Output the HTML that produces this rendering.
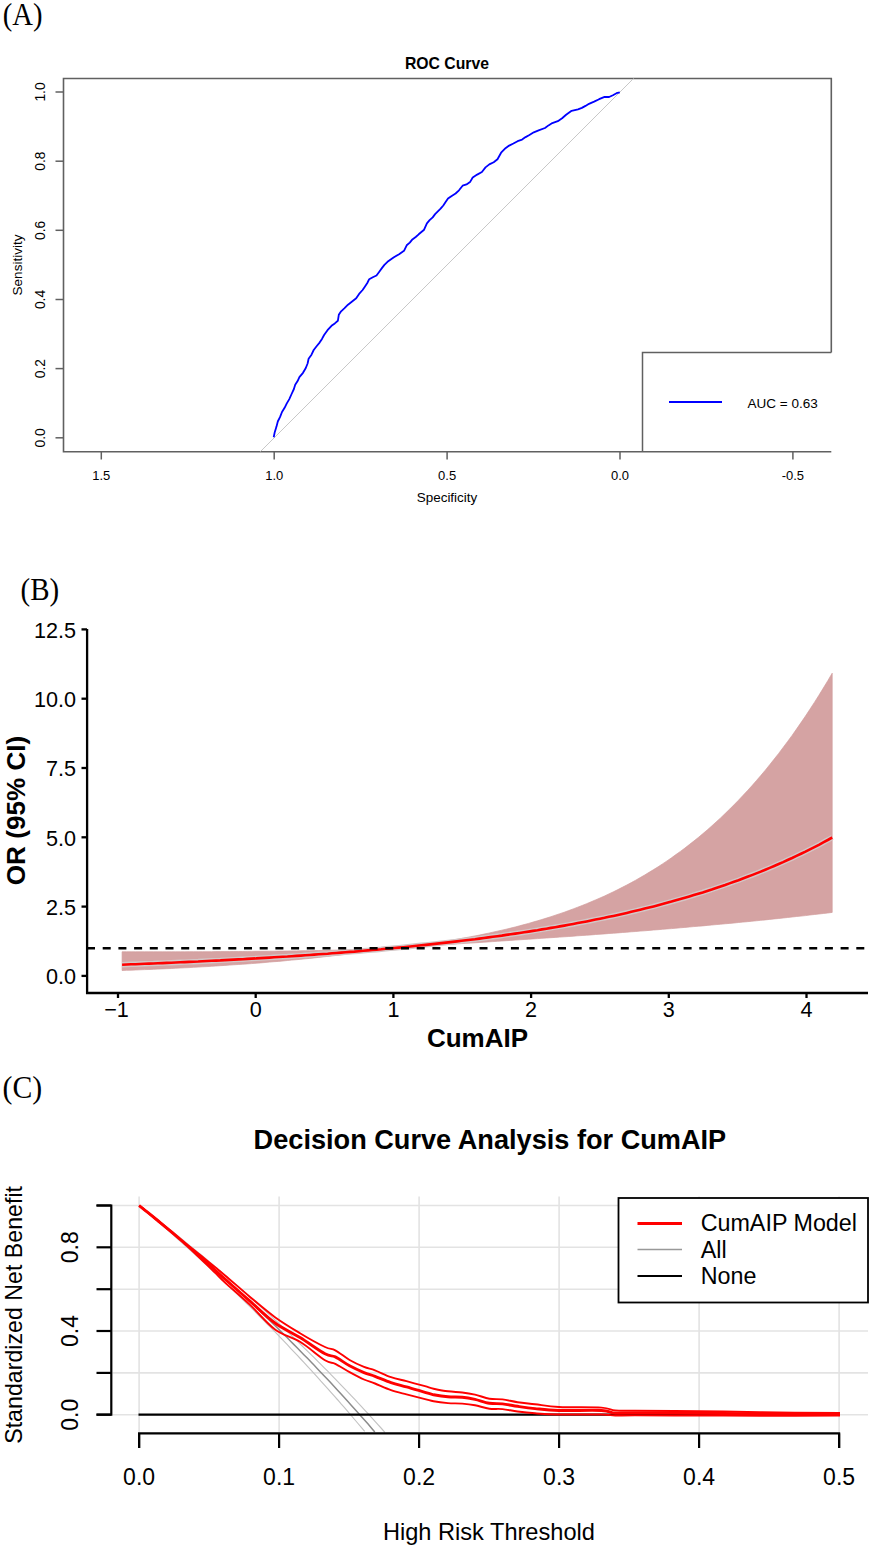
<!DOCTYPE html>
<html><head><meta charset="utf-8"><style>
html,body{margin:0;padding:0;background:#fff;}
svg{display:block;}
</style></head><body>
<svg width="873" height="1550" viewBox="0 0 873 1550">
<rect width="873" height="1550" fill="#fff"/>
<text transform="translate(2.8,24.6) scale(0.925,1)" font-family='"Liberation Serif", serif' font-size="31">(A)</text>
<polyline points="831.3,352.5 831.3,78.5 63.5,78.5 63.5,451.8 831.3,451.8" fill="none" stroke="#606060" stroke-width="1.6"/>
<text x="447" y="69.4" text-anchor="middle" font-family='"Liberation Sans", sans-serif' font-weight="bold" font-size="15.75">ROC Curve</text>
<line x1="55.5" y1="437.8" x2="63.5" y2="437.8" stroke="#606060" stroke-width="1.5"/>
<text transform="translate(45,437.8) rotate(-90)" text-anchor="middle" font-family='"Liberation Sans", sans-serif' font-size="13.8">0.0</text>
<line x1="55.5" y1="368.6" x2="63.5" y2="368.6" stroke="#606060" stroke-width="1.5"/>
<text transform="translate(45,368.6) rotate(-90)" text-anchor="middle" font-family='"Liberation Sans", sans-serif' font-size="13.8">0.2</text>
<line x1="55.5" y1="299.5" x2="63.5" y2="299.5" stroke="#606060" stroke-width="1.5"/>
<text transform="translate(45,299.5) rotate(-90)" text-anchor="middle" font-family='"Liberation Sans", sans-serif' font-size="13.8">0.4</text>
<line x1="55.5" y1="230.3" x2="63.5" y2="230.3" stroke="#606060" stroke-width="1.5"/>
<text transform="translate(45,230.3) rotate(-90)" text-anchor="middle" font-family='"Liberation Sans", sans-serif' font-size="13.8">0.6</text>
<line x1="55.5" y1="161.2" x2="63.5" y2="161.2" stroke="#606060" stroke-width="1.5"/>
<text transform="translate(45,161.2) rotate(-90)" text-anchor="middle" font-family='"Liberation Sans", sans-serif' font-size="13.8">0.8</text>
<line x1="55.5" y1="92" x2="63.5" y2="92" stroke="#606060" stroke-width="1.5"/>
<text transform="translate(45,92) rotate(-90)" text-anchor="middle" font-family='"Liberation Sans", sans-serif' font-size="13.8">1.0</text>
<line x1="101.3" y1="451.5" x2="101.3" y2="459.5" stroke="#606060" stroke-width="1.5"/>
<text x="101.3" y="479.6" text-anchor="middle" font-family='"Liberation Sans", sans-serif' font-size="13">1.5</text>
<line x1="274.2" y1="451.5" x2="274.2" y2="459.5" stroke="#606060" stroke-width="1.5"/>
<text x="274.2" y="479.6" text-anchor="middle" font-family='"Liberation Sans", sans-serif' font-size="13">1.0</text>
<line x1="447.1" y1="451.5" x2="447.1" y2="459.5" stroke="#606060" stroke-width="1.5"/>
<text x="447.1" y="479.6" text-anchor="middle" font-family='"Liberation Sans", sans-serif' font-size="13">0.5</text>
<line x1="620" y1="451.5" x2="620" y2="459.5" stroke="#606060" stroke-width="1.5"/>
<text x="620" y="479.6" text-anchor="middle" font-family='"Liberation Sans", sans-serif' font-size="13">0.0</text>
<line x1="792.9" y1="451.5" x2="792.9" y2="459.5" stroke="#606060" stroke-width="1.5"/>
<text x="792.9" y="479.6" text-anchor="middle" font-family='"Liberation Sans", sans-serif' font-size="13">-0.5</text>
<text x="447" y="502" text-anchor="middle" font-family='"Liberation Sans", sans-serif' font-size="13.45">Specificity</text>
<text transform="translate(22,265) rotate(-90)" text-anchor="middle" font-family='"Liberation Sans", sans-serif' font-size="13.5">Sensitivity</text>
<line x1="260.5" y1="451.5" x2="633.5" y2="78.5" stroke="#c8c8c8" stroke-width="1"/>
<polyline points="273.7,437.3 274.8,431.9 276.5,426.6 277.8,421.5 280.1,416.9 282,412 284.6,407.8 286.8,403.4 289.3,399.1 291.6,394 293.9,389 295.2,384.8 297.6,381.1 299.4,377.1 303,372.8 305.8,368 307.6,363.5 308.6,358.8 311.5,354.7 313.7,350 316.8,346 319.6,342.6 322,338.9 324.1,335 327.5,330.2 331.5,325.8 334.8,323.4 337.9,320.7 338.8,314.8 341.1,311.3 344.3,308.4 348,304.7 352.1,301.5 356.2,298.3 359.1,293.9 362.6,290 365,286.5 367.3,283 369.2,279.2 372.8,277.2 376.5,275.5 379.1,272 381.7,268.4 384.4,264.9 387.5,261.8 393.9,257.2 399.1,254.2 404,250.8 406.7,245.3 409.8,242.6 412.4,239.4 415.7,237 418.7,234.3 424.1,229.7 426.9,223.3 429.6,220.2 432.7,217.4 435.1,214.1 440.6,208.7 443.3,205.5 445.6,202 448,198.6 451.7,195.9 455.6,193.5 459,190.3 462.6,185.7 466.5,184.4 470,182.1 472.7,177.5 477.2,174.6 481.9,172 485.5,167.4 489.3,164.4 493.7,162.2 497.5,159.2 501.1,152.7 504.8,148.8 509.2,145.6 513.4,143.5 517.6,141.2 522.1,139.6 525.6,137.1 529.4,135 533.8,132.3 538.6,130.4 545,128 548.5,125.4 552.3,123.1 557.8,121.2 562.1,118.3 566.1,114.8 571.6,110.8 578,109.3 581.9,107.9 585.5,105.9 589,103.8 594.1,101.6 599.1,99.2 604.6,96.9 609.1,97 612.9,95.2 616.5,93.2 619.8,92.3" fill="none" stroke="#0000ff" stroke-width="1.8" stroke-linejoin="round"/>
<polyline points="642.5,451.8 642.5,352.5 831.3,352.5" fill="none" stroke="#606060" stroke-width="1.5"/>
<line x1="669" y1="402" x2="722" y2="402" stroke="#0000ff" stroke-width="2"/>
<text x="747.6" y="407.8" font-family='"Liberation Sans", sans-serif' font-size="13.5">AUC = 0.63</text>
<text transform="translate(20.6,599.8) scale(0.935,1)" font-family='"Liberation Serif", serif' font-size="31">(B)</text>
<polygon points="122.1,951.8 126.6,951.8 131.1,951.8 135.5,951.8 140,951.8 144.5,951.8 148.9,951.8 153.4,951.8 157.9,951.8 162.3,951.8 166.8,951.8 171.3,951.8 175.7,951.8 180.2,951.8 184.7,951.8 189.1,951.7 193.6,951.7 198.1,951.7 202.5,951.7 207,951.7 211.5,951.7 215.9,951.6 220.4,951.6 224.9,951.6 229.3,951.6 233.8,951.5 238.3,951.5 242.7,951.5 247.2,951.4 251.6,951.4 256.1,951.3 260.6,951.3 265,951.3 269.5,951.2 274,951.2 278.4,951.1 282.9,951.1 287.4,951 291.8,950.9 296.3,950.9 300.8,950.8 305.2,950.7 309.7,950.7 314.2,950.6 318.6,950.5 323.1,950.4 327.6,950.3 332,950.2 336.5,950.1 341,950 345.4,949.9 349.9,949.8 354.4,949.7 358.8,949.5 363.3,949.4 367.8,949.3 372.2,949.1 376.7,948.9 381.2,948.8 385.6,948.6 390.1,948.3 394.6,948 399,947.5 403.5,947 408,946.4 412.4,945.9 416.9,945.3 421.4,944.7 425.8,944.1 430.3,943.4 434.8,942.8 439.2,942.1 443.7,941.4 448.2,940.7 452.6,940 457.1,939.2 461.6,938.4 466,937.6 470.5,936.8 475,935.9 479.4,935.1 483.9,934.1 488.4,933.2 492.8,932.2 497.3,931.2 501.8,930.2 506.2,929.2 510.7,928.1 515.2,927 519.6,925.8 524.1,924.6 528.6,923.4 533,922.1 537.5,920.8 541.9,919.5 546.4,918.1 550.9,916.7 555.3,915.2 559.8,913.7 564.3,912.2 568.7,910.6 573.2,908.9 577.7,907.2 582.1,905.5 586.6,903.7 591.1,901.8 595.5,899.9 600,898 604.5,896 608.9,893.9 613.4,891.8 617.9,889.6 622.3,887.3 626.8,885 631.3,882.6 635.7,880.2 640.2,877.6 644.7,875 649.1,872.3 653.6,869.6 658.1,866.8 662.5,863.9 667,860.9 671.5,857.8 675.9,854.6 680.4,851.4 684.9,848.1 689.3,844.6 693.8,841.1 698.3,837.5 702.7,833.8 707.2,830 711.7,826 716.1,822 720.6,817.9 725.1,813.6 729.5,809.3 734,804.8 738.5,800.2 742.9,795.5 747.4,790.7 751.9,785.8 756.3,780.7 760.8,775.5 765.3,770.2 769.7,764.7 774.2,759.1 778.7,753.4 783.1,747.5 787.6,741.5 792.1,735.4 796.5,729.1 801,722.6 805.5,716 809.9,709.3 814.4,702.4 818.9,695.3 823.3,688.1 827.8,680.7 832.2,673.2 832.2,912.4 827.8,913 823.3,913.5 818.9,914 814.4,914.5 809.9,915 805.5,915.6 801,916.1 796.5,916.5 792.1,917 787.6,917.5 783.1,918 778.7,918.5 774.2,918.9 769.7,919.4 765.3,919.9 760.8,920.3 756.3,920.8 751.9,921.2 747.4,921.7 742.9,922.1 738.5,922.5 734,923 729.5,923.4 725.1,923.8 720.6,924.2 716.1,924.6 711.7,925 707.2,925.4 702.7,925.9 698.3,926.2 693.8,926.6 689.3,927 684.9,927.4 680.4,927.8 675.9,928.2 671.5,928.6 667,928.9 662.5,929.3 658.1,929.7 653.6,930 649.1,930.4 644.7,930.8 640.2,931.1 635.7,931.5 631.3,931.8 626.8,932.2 622.3,932.5 617.9,932.9 613.4,933.2 608.9,933.5 604.5,933.9 600,934.2 595.5,934.5 591.1,934.9 586.6,935.2 582.1,935.5 577.7,935.8 573.2,936.2 568.7,936.5 564.3,936.8 559.8,937.1 555.3,937.4 550.9,937.7 546.4,938 541.9,938.3 537.5,938.6 533,938.9 528.6,939.2 524.1,939.5 519.6,939.8 515.2,940.1 510.7,940.4 506.2,940.7 501.8,941 497.3,941.3 492.8,941.6 488.4,941.9 483.9,942.2 479.4,942.5 475,942.8 470.5,943.1 466,943.3 461.6,943.6 457.1,943.9 452.6,944.2 448.2,944.5 443.7,944.8 439.2,945.1 434.8,945.3 430.3,945.6 425.8,945.9 421.4,946.2 416.9,946.5 412.4,946.8 408,947.1 403.5,947.4 399,947.7 394.6,948 390.1,948.5 385.6,949.1 381.2,949.7 376.7,950.3 372.2,950.9 367.8,951.5 363.3,952.1 358.8,952.7 354.4,953.2 349.9,953.8 345.4,954.3 341,954.9 336.5,955.4 332,955.9 327.6,956.4 323.1,956.9 318.6,957.4 314.2,957.9 309.7,958.4 305.2,958.8 300.8,959.3 296.3,959.7 291.8,960.1 287.4,960.5 282.9,961 278.4,961.4 274,961.7 269.5,962.1 265,962.5 260.6,962.9 256.1,963.2 251.6,963.6 247.2,963.9 242.7,964.2 238.3,964.5 233.8,964.8 229.3,965.1 224.9,965.4 220.4,965.7 215.9,966 211.5,966.3 207,966.6 202.5,966.8 198.1,967.1 193.6,967.3 189.1,967.6 184.7,967.8 180.2,968 175.7,968.2 171.3,968.5 166.8,968.7 162.3,968.9 157.9,969.1 153.4,969.3 148.9,969.5 144.5,969.6 140,969.8 135.5,970 131.1,970.2 126.6,970.3 122.1,970.5" fill="#d5a3a3" stroke="#d19c9c" stroke-width="0.7"/>
<polyline points="122.1,964.7 126.6,964.5 131.1,964.3 135.5,964.2 140,964 144.5,963.8 148.9,963.6 153.4,963.5 157.9,963.3 162.3,963.1 166.8,962.9 171.3,962.7 175.7,962.5 180.2,962.3 184.7,962.1 189.1,961.9 193.6,961.7 198.1,961.5 202.5,961.2 207,961 211.5,960.8 215.9,960.6 220.4,960.4 224.9,960.1 229.3,959.9 233.8,959.6 238.3,959.4 242.7,959.2 247.2,958.9 251.6,958.6 256.1,958.4 260.6,958.1 265,957.9 269.5,957.6 274,957.3 278.4,957 282.9,956.7 287.4,956.5 291.8,956.2 296.3,955.9 300.8,955.6 305.2,955.3 309.7,955 314.2,954.6 318.6,954.3 323.1,954 327.6,953.7 332,953.3 336.5,953 341,952.6 345.4,952.3 349.9,951.9 354.4,951.6 358.8,951.2 363.3,950.8 367.8,950.4 372.2,950 376.7,949.7 381.2,949.3 385.6,948.8 390.1,948.4 394.6,948 399,947.6 403.5,947.2 408,946.7 412.4,946.3 416.9,945.8 421.4,945.3 425.8,944.9 430.3,944.4 434.8,943.9 439.2,943.4 443.7,942.9 448.2,942.4 452.6,941.9 457.1,941.4 461.6,940.8 466,940.3 470.5,939.7 475,939.2 479.4,938.6 483.9,938 488.4,937.4 492.8,936.8 497.3,936.2 501.8,935.6 506.2,934.9 510.7,934.3 515.2,933.6 519.6,933 524.1,932.3 528.6,931.6 533,930.9 537.5,930.2 541.9,929.4 546.4,928.7 550.9,927.9 555.3,927.2 559.8,926.4 564.3,925.6 568.7,924.8 573.2,924 577.7,923.1 582.1,922.3 586.6,921.4 591.1,920.5 595.5,919.6 600,918.7 604.5,917.8 608.9,916.8 613.4,915.9 617.9,914.9 622.3,913.9 626.8,912.9 631.3,911.8 635.7,910.8 640.2,909.7 644.7,908.6 649.1,907.5 653.6,906.4 658.1,905.2 662.5,904 667,902.8 671.5,901.6 675.9,900.3 680.4,899.1 684.9,897.8 689.3,896.5 693.8,895.1 698.3,893.7 702.7,892.4 707.2,890.9 711.7,889.5 716.1,888 720.6,886.5 725.1,885 729.5,883.4 734,881.8 738.5,880.2 742.9,878.5 747.4,876.8 751.9,875.1 756.3,873.4 760.8,871.6 765.3,869.7 769.7,867.9 774.2,866 778.7,864 783.1,862.1 787.6,860 792.1,858 796.5,855.9 801,853.8 805.5,851.6 809.9,849.3 814.4,847.1 818.9,844.8 823.3,842.4 827.8,840 832.2,837.5" fill="none" stroke="#d3c7c7" stroke-width="5.4"/>
<polyline points="122.1,964.7 126.6,964.5 131.1,964.3 135.5,964.2 140,964 144.5,963.8 148.9,963.6 153.4,963.5 157.9,963.3 162.3,963.1 166.8,962.9 171.3,962.7 175.7,962.5 180.2,962.3 184.7,962.1 189.1,961.9 193.6,961.7 198.1,961.5 202.5,961.2 207,961 211.5,960.8 215.9,960.6 220.4,960.4 224.9,960.1 229.3,959.9 233.8,959.6 238.3,959.4 242.7,959.2 247.2,958.9 251.6,958.6 256.1,958.4 260.6,958.1 265,957.9 269.5,957.6 274,957.3 278.4,957 282.9,956.7 287.4,956.5 291.8,956.2 296.3,955.9 300.8,955.6 305.2,955.3 309.7,955 314.2,954.6 318.6,954.3 323.1,954 327.6,953.7 332,953.3 336.5,953 341,952.6 345.4,952.3 349.9,951.9 354.4,951.6 358.8,951.2 363.3,950.8 367.8,950.4 372.2,950 376.7,949.7 381.2,949.3 385.6,948.8 390.1,948.4 394.6,948 399,947.6 403.5,947.2 408,946.7 412.4,946.3 416.9,945.8 421.4,945.3 425.8,944.9 430.3,944.4 434.8,943.9 439.2,943.4 443.7,942.9 448.2,942.4 452.6,941.9 457.1,941.4 461.6,940.8 466,940.3 470.5,939.7 475,939.2 479.4,938.6 483.9,938 488.4,937.4 492.8,936.8 497.3,936.2 501.8,935.6 506.2,934.9 510.7,934.3 515.2,933.6 519.6,933 524.1,932.3 528.6,931.6 533,930.9 537.5,930.2 541.9,929.4 546.4,928.7 550.9,927.9 555.3,927.2 559.8,926.4 564.3,925.6 568.7,924.8 573.2,924 577.7,923.1 582.1,922.3 586.6,921.4 591.1,920.5 595.5,919.6 600,918.7 604.5,917.8 608.9,916.8 613.4,915.9 617.9,914.9 622.3,913.9 626.8,912.9 631.3,911.8 635.7,910.8 640.2,909.7 644.7,908.6 649.1,907.5 653.6,906.4 658.1,905.2 662.5,904 667,902.8 671.5,901.6 675.9,900.3 680.4,899.1 684.9,897.8 689.3,896.5 693.8,895.1 698.3,893.7 702.7,892.4 707.2,890.9 711.7,889.5 716.1,888 720.6,886.5 725.1,885 729.5,883.4 734,881.8 738.5,880.2 742.9,878.5 747.4,876.8 751.9,875.1 756.3,873.4 760.8,871.6 765.3,869.7 769.7,867.9 774.2,866 778.7,864 783.1,862.1 787.6,860 792.1,858 796.5,855.9 801,853.8 805.5,851.6 809.9,849.3 814.4,847.1 818.9,844.8 823.3,842.4 827.8,840 832.2,837.5" fill="none" stroke="#ff0000" stroke-width="2.6"/>
<line x1="87" y1="948.3" x2="868" y2="948.3" stroke="#000" stroke-width="2.6" stroke-dasharray="8 7.7"/>
<line x1="87.1" y1="629" x2="87.1" y2="994" stroke="#000" stroke-width="2.3"/>
<line x1="86" y1="993" x2="868" y2="993" stroke="#000" stroke-width="2.3"/>
<line x1="81.5" y1="975.9" x2="87" y2="975.9" stroke="#000" stroke-width="2.3"/>
<text x="76" y="984.3" text-anchor="end" font-family='"Liberation Sans", sans-serif' font-size="21.6">0.0</text>
<line x1="81.5" y1="906.6" x2="87" y2="906.6" stroke="#000" stroke-width="2.3"/>
<text x="76" y="915" text-anchor="end" font-family='"Liberation Sans", sans-serif' font-size="21.6">2.5</text>
<line x1="81.5" y1="837.3" x2="87" y2="837.3" stroke="#000" stroke-width="2.3"/>
<text x="76" y="845.7" text-anchor="end" font-family='"Liberation Sans", sans-serif' font-size="21.6">5.0</text>
<line x1="81.5" y1="768" x2="87" y2="768" stroke="#000" stroke-width="2.3"/>
<text x="76" y="776.4" text-anchor="end" font-family='"Liberation Sans", sans-serif' font-size="21.6">7.5</text>
<line x1="81.5" y1="698.7" x2="87" y2="698.7" stroke="#000" stroke-width="2.3"/>
<text x="76" y="707.1" text-anchor="end" font-family='"Liberation Sans", sans-serif' font-size="21.6">10.0</text>
<line x1="81.5" y1="629.4" x2="87" y2="629.4" stroke="#000" stroke-width="2.3"/>
<text x="76" y="637.8" text-anchor="end" font-family='"Liberation Sans", sans-serif' font-size="21.6">12.5</text>
<line x1="118" y1="993" x2="118" y2="998" stroke="#000" stroke-width="2.3"/>
<text x="116.5" y="1017.4" text-anchor="middle" font-family='"Liberation Sans", sans-serif' font-size="21.6">−1</text>
<line x1="255.7" y1="993" x2="255.7" y2="998" stroke="#000" stroke-width="2.3"/>
<text x="255.7" y="1017.4" text-anchor="middle" font-family='"Liberation Sans", sans-serif' font-size="21.6">0</text>
<line x1="393.4" y1="993" x2="393.4" y2="998" stroke="#000" stroke-width="2.3"/>
<text x="393.4" y="1017.4" text-anchor="middle" font-family='"Liberation Sans", sans-serif' font-size="21.6">1</text>
<line x1="531.1" y1="993" x2="531.1" y2="998" stroke="#000" stroke-width="2.3"/>
<text x="531.1" y="1017.4" text-anchor="middle" font-family='"Liberation Sans", sans-serif' font-size="21.6">2</text>
<line x1="668.8" y1="993" x2="668.8" y2="998" stroke="#000" stroke-width="2.3"/>
<text x="668.8" y="1017.4" text-anchor="middle" font-family='"Liberation Sans", sans-serif' font-size="21.6">3</text>
<line x1="806.5" y1="993" x2="806.5" y2="998" stroke="#000" stroke-width="2.3"/>
<text x="806.5" y="1017.4" text-anchor="middle" font-family='"Liberation Sans", sans-serif' font-size="21.6">4</text>
<text x="477.5" y="1046.8" text-anchor="middle" font-family='"Liberation Sans", sans-serif' font-weight="bold" font-size="26">CumAIP</text>
<text transform="translate(24.7,810.5) rotate(-90)" text-anchor="middle" font-family='"Liberation Sans", sans-serif' font-weight="bold" font-size="26.1">OR (95% CI)</text>
<text transform="translate(2.6,1097.6) scale(0.93,1)" font-family='"Liberation Serif", serif' font-size="32">(C)</text>
<text x="489.9" y="1149.2" text-anchor="middle" font-family='"Liberation Sans", sans-serif' font-weight="bold" font-size="27.15">Decision Curve Analysis for CumAIP</text>
<line x1="112.5" y1="1414.7" x2="868" y2="1414.7" stroke="#e3e3e3" stroke-width="1.6"/>
<line x1="112.5" y1="1372.9" x2="868" y2="1372.9" stroke="#e3e3e3" stroke-width="1.6"/>
<line x1="112.5" y1="1331" x2="868" y2="1331" stroke="#e3e3e3" stroke-width="1.6"/>
<line x1="112.5" y1="1289.2" x2="868" y2="1289.2" stroke="#e3e3e3" stroke-width="1.6"/>
<line x1="112.5" y1="1247.3" x2="868" y2="1247.3" stroke="#e3e3e3" stroke-width="1.6"/>
<line x1="112.5" y1="1205.5" x2="868" y2="1205.5" stroke="#e3e3e3" stroke-width="1.6"/>
<line x1="139.1" y1="1196.5" x2="139.1" y2="1432" stroke="#e3e3e3" stroke-width="1.6"/>
<line x1="279.1" y1="1196.5" x2="279.1" y2="1432" stroke="#e3e3e3" stroke-width="1.6"/>
<line x1="419.1" y1="1196.5" x2="419.1" y2="1432" stroke="#e3e3e3" stroke-width="1.6"/>
<line x1="559.1" y1="1196.5" x2="559.1" y2="1432" stroke="#e3e3e3" stroke-width="1.6"/>
<line x1="699.1" y1="1196.5" x2="699.1" y2="1432" stroke="#e3e3e3" stroke-width="1.6"/>
<line x1="839.1" y1="1196.5" x2="839.1" y2="1432" stroke="#e3e3e3" stroke-width="1.6"/>
<polyline points="139.1,1205.5 142.5,1208.3 145.8,1211.2 149.2,1214 152.6,1216.9 155.9,1219.8 159.3,1222.7 162.7,1225.6 166,1228.6 169.4,1231.5 172.8,1234.5 176.1,1237.5 179.5,1240.5 182.9,1243.5 186.2,1246.5 189.6,1249.5 193,1252.6 196.3,1255.6 199.7,1258.7 203.1,1261.8 206.4,1264.9 209.8,1268.1 213.2,1271.2 216.5,1274.4 219.9,1277.6 223.3,1280.7 226.6,1284 230,1287.2 233.4,1290.4 236.7,1293.7 240.1,1297 243.5,1300.3 246.8,1303.6 250.2,1306.9 253.6,1310.2 256.9,1313.6 260.3,1317 263.7,1320.4 267,1323.8 270.4,1327.2 273.8,1330.7 277.2,1334.2 280.5,1337.7 283.9,1341.2 287.3,1344.7 290.6,1348.3 294,1351.8 297.4,1355.4 300.7,1359 304.1,1362.6 307.5,1366.3 310.8,1369.9 314.2,1373.6 317.6,1377.3 320.9,1381.1 324.3,1384.8 327.7,1388.6 331,1392.4 334.4,1396.2 337.8,1400 341.1,1403.9 344.5,1407.7 347.9,1411.6 351.2,1415.5 354.6,1419.5 358,1423.5 361.3,1427.4 364.7,1431.4" fill="none" stroke="#c2c2c2" stroke-width="1.15"/>
<polyline points="139.1,1205.5 142.5,1208.1 145.8,1210.6 149.2,1213.2 152.6,1215.8 155.9,1218.5 159.3,1221.1 162.7,1223.7 166,1226.4 169.4,1229.1 172.8,1231.7 176.1,1234.4 179.5,1237.1 182.9,1239.9 186.2,1242.6 189.6,1245.4 193,1248.1 196.3,1250.9 199.7,1253.7 203.1,1256.5 206.4,1259.3 209.8,1262.1 213.2,1265 216.5,1267.9 219.9,1270.7 223.3,1273.6 226.6,1276.5 230,1279.5 233.4,1282.4 236.7,1285.3 240.1,1288.3 243.5,1291.3 246.8,1294.3 250.2,1297.3 253.6,1300.3 256.9,1303.4 260.3,1306.4 263.7,1309.5 267,1312.6 270.4,1315.7 273.8,1318.8 277.2,1322 280.5,1325.2 283.9,1328.3 287.3,1331.5 290.6,1334.7 294,1338 297.4,1341.2 300.7,1344.5 304.1,1347.8 307.5,1351.1 310.8,1354.4 314.2,1357.7 317.6,1361.1 320.9,1364.4 324.3,1367.8 327.7,1371.2 331,1374.7 334.4,1378.1 337.8,1381.6 341.1,1385.1 344.5,1388.6 347.9,1392.1 351.2,1395.7 354.6,1399.2 358,1402.8 361.3,1406.4 364.7,1410.1 368.1,1413.7 371.4,1417.4 374.8,1421.1 378.2,1424.8 381.5,1428.5 384.9,1432.3" fill="none" stroke="#c2c2c2" stroke-width="1.15"/>
<polyline points="139.1,1205.5 142.5,1208.2 145.8,1210.9 149.2,1213.6 152.6,1216.4 155.9,1219.1 159.3,1221.9 162.7,1224.6 166,1227.4 169.4,1230.2 172.8,1233.1 176.1,1235.9 179.5,1238.7 182.9,1241.6 186.2,1244.5 189.6,1247.4 193,1250.3 196.3,1253.2 199.7,1256.1 203.1,1259 206.4,1262 209.8,1265 213.2,1268 216.5,1271 219.9,1274 223.3,1277 226.6,1280.1 230,1283.2 233.4,1286.2 236.7,1289.3 240.1,1292.5 243.5,1295.6 246.8,1298.7 250.2,1301.9 253.6,1305.1 256.9,1308.3 260.3,1311.5 263.7,1314.7 267,1318 270.4,1321.2 273.8,1324.5 277.2,1327.8 280.5,1331.1 283.9,1334.5 287.3,1337.8 290.6,1341.2 294,1344.6 297.4,1348 300.7,1351.4 304.1,1354.9 307.5,1358.3 310.8,1361.8 314.2,1365.3 317.6,1368.9 320.9,1372.4 324.3,1376 327.7,1379.5 331,1383.1 334.4,1386.8 337.8,1390.4 341.1,1394.1 344.5,1397.8 347.9,1401.5 351.2,1405.2 354.6,1408.9 358,1412.7 361.3,1416.5 364.7,1420.3 368.1,1424.1 371.4,1428 374.8,1431.9" fill="none" stroke="#8c8c8c" stroke-width="1.5"/>
<line x1="138.5" y1="1414.6" x2="840" y2="1414.6" stroke="#000" stroke-width="2.2"/>
<path d="M139.2,1205.6 C140.8,1206.9 145.6,1210.7 148.7,1213.2 C151.9,1215.8 155.1,1218.4 158.3,1221 C161.4,1223.6 164.6,1226.3 167.8,1228.9 C171,1231.5 174.2,1234.3 177.3,1236.9 C180.5,1239.5 183.7,1242 186.9,1244.5 C190,1247 193.2,1249.5 196.4,1252.1 C199.6,1254.6 202.8,1257.1 205.9,1259.7 C209.1,1262.3 212.3,1264.9 215.5,1267.5 C218.6,1270.1 219.2,1270.5 225,1275.4 C230.8,1280.3 241.7,1289.9 250,1296.9 C258.3,1303.9 266.7,1311.2 275,1317.2 C283.3,1323.2 291.7,1328.2 300,1333.2 C308.3,1338.2 319.1,1344.2 325,1347 C330.9,1349.8 331.2,1348.1 335.3,1350.3 C339.4,1352.5 344.8,1357.2 349.6,1360 C354.4,1362.8 359.8,1365.2 364,1366.9 C368.2,1368.6 370.5,1368.6 375,1370.3 C379.5,1372 385.8,1375.4 391,1377.2 C396.2,1379 400.8,1379.7 406.5,1381.2 C412.2,1382.7 420.5,1385 425,1386.2 C429.5,1387.5 429.8,1387.9 433.6,1388.7 C437.4,1389.5 443.1,1390.7 447.9,1391.3 C452.7,1391.9 457.7,1392 462.2,1392.5 C466.7,1393 470.5,1393.6 475,1394.6 C479.5,1395.6 484.8,1397.9 489.4,1398.7 C494,1399.5 497.8,1398.8 502.5,1399.4 C507.2,1400 512.2,1401.4 517.6,1402.2 C523,1403 528.1,1403.4 535,1404.2 C541.9,1405 547.9,1406.4 559,1407 C570.1,1407.6 592,1407 601.4,1407.6 C610.8,1408.2 609.6,1410 615.2,1410.5 C620.8,1411 620.9,1410.7 635,1410.8 C649.1,1410.9 679.2,1411 700,1411.2 C720.8,1411.4 736.7,1411.9 760,1412.2 C783.3,1412.5 826.7,1412.9 840,1413" fill="none" stroke="#ff0000" stroke-width="1.9" stroke-linejoin="round"/>
<path d="M139.2,1205.6 C140.8,1206.9 145.6,1210.7 148.7,1213.2 C151.9,1215.8 155.1,1218.4 158.3,1221 C161.4,1223.6 164.6,1226.3 167.8,1228.9 C171,1231.5 174.2,1234.1 177.3,1236.9 C180.5,1239.7 183.7,1242.6 186.9,1245.6 C190,1248.6 193.2,1251.6 196.4,1254.7 C199.6,1257.7 202.8,1260.8 205.9,1263.9 C209.1,1266.9 212.3,1270 215.5,1273.2 C218.6,1276.3 219.2,1277.3 225,1282.6 C230.8,1287.9 241.7,1297.1 250,1304.9 C258.3,1312.7 266.7,1323.3 275,1329.5 C283.3,1335.7 291.7,1336.7 300,1341.8 C308.3,1346.9 319.1,1356.6 325,1360.3 C330.9,1364 331.2,1361.8 335.3,1363.8 C339.4,1365.8 344.8,1369.5 349.6,1372.1 C354.4,1374.7 359.8,1377.6 364,1379.5 C368.2,1381.4 370.5,1381.7 375,1383.5 C379.5,1385.3 385.8,1388.3 391,1390.1 C396.2,1391.9 400.8,1392.9 406.5,1394.4 C412.2,1395.9 420.5,1397.9 425,1399.1 C429.5,1400.2 429.8,1400.6 433.6,1401.3 C437.4,1402 443.1,1402.7 447.9,1403.1 C452.7,1403.5 457.7,1403.2 462.2,1403.6 C466.7,1403.9 470.5,1404.3 475,1405.2 C479.5,1406.1 484.8,1408.1 489.4,1408.7 C494,1409.3 497.8,1408.6 502.5,1409.1 C507.2,1409.6 512.2,1410.8 517.6,1411.5 C523,1412.2 528.1,1412.8 535,1413.3 C541.9,1413.8 547.9,1414.3 559,1414.5 C570.1,1414.7 592,1414.3 601.4,1414.5 C610.8,1414.7 609.6,1415.4 615.2,1415.6 C620.8,1415.8 620.9,1415.4 635,1415.4 C649.1,1415.4 679.2,1415.4 700,1415.5 C720.8,1415.6 736.7,1415.8 760,1415.8 C783.3,1415.8 826.7,1415.5 840,1415.5" fill="none" stroke="#ff0000" stroke-width="1.9" stroke-linejoin="round"/>
<path d="M139.2,1205.6 C140.8,1206.9 145.6,1210.7 148.7,1213.2 C151.9,1215.8 155.1,1218.4 158.3,1221 C161.4,1223.6 164.6,1226.3 167.8,1228.9 C171,1231.5 174.2,1234.2 177.3,1236.9 C180.5,1239.6 183.7,1242.3 186.9,1245.1 C190,1247.8 193.2,1250.6 196.4,1253.4 C199.6,1256.2 202.8,1259.1 205.9,1261.9 C209.1,1264.7 212.3,1267.6 215.5,1270.5 C218.6,1273.4 219.2,1274.1 225,1279.2 C230.8,1284.3 241.7,1293.9 250,1301.2 C258.3,1308.5 266.7,1317 275,1323 C283.3,1329 291.7,1332.4 300,1337.5 C308.3,1342.6 319.1,1350.6 325,1353.8 C330.9,1357 331.2,1354.9 335.3,1356.9 C339.4,1358.9 344.8,1363.2 349.6,1365.8 C354.4,1368.4 359.8,1370.8 364,1372.6 C368.2,1374.4 370.5,1374.7 375,1376.4 C379.5,1378.1 385.8,1380.8 391,1382.6 C396.2,1384.3 400.8,1385.3 406.5,1386.9 C412.2,1388.5 420.5,1391 425,1392.3 C429.5,1393.6 429.8,1394 433.6,1394.8 C437.4,1395.5 443.1,1396.4 447.9,1396.8 C452.7,1397.2 457.7,1396.9 462.2,1397.3 C466.7,1397.7 470.5,1398.4 475,1399.4 C479.5,1400.4 484.8,1402.5 489.4,1403.2 C494,1404 497.8,1403.4 502.5,1403.9 C507.2,1404.4 512.2,1405.5 517.6,1406.3 C523,1407.1 528.1,1407.9 535,1408.6 C541.9,1409.3 547.9,1410.2 559,1410.5 C570.1,1410.8 592,1410 601.4,1410.5 C610.8,1411 609.6,1412.9 615.2,1413.3 C620.8,1413.7 620.9,1413 635,1413 C649.1,1413 679.2,1413 700,1413.2 C720.8,1413.4 736.7,1413.8 760,1414 C783.3,1414.2 826.7,1414.5 840,1414.6" fill="none" stroke="#ff0000" stroke-width="2.9" stroke-linejoin="round"/>
<polyline points="96.5,1205.5 111.3,1205.5 111.3,1414.7 96.5,1414.7" fill="none" stroke="#000" stroke-width="2.2"/>
<line x1="96.5" y1="1414.7" x2="111.3" y2="1414.7" stroke="#000" stroke-width="2.2"/>
<text transform="translate(78,1414.7) rotate(-90)" text-anchor="middle" font-family='"Liberation Sans", sans-serif' font-size="23">0.0</text>
<line x1="96.5" y1="1372.9" x2="111.3" y2="1372.9" stroke="#000" stroke-width="2.2"/>
<line x1="96.5" y1="1331" x2="111.3" y2="1331" stroke="#000" stroke-width="2.2"/>
<text transform="translate(78,1331) rotate(-90)" text-anchor="middle" font-family='"Liberation Sans", sans-serif' font-size="23">0.4</text>
<line x1="96.5" y1="1289.2" x2="111.3" y2="1289.2" stroke="#000" stroke-width="2.2"/>
<line x1="96.5" y1="1247.3" x2="111.3" y2="1247.3" stroke="#000" stroke-width="2.2"/>
<text transform="translate(78,1247.3) rotate(-90)" text-anchor="middle" font-family='"Liberation Sans", sans-serif' font-size="23">0.8</text>
<line x1="96.5" y1="1205.5" x2="111.3" y2="1205.5" stroke="#000" stroke-width="2.2"/>
<polyline points="139.1,1448 139.1,1433.3 839.1,1433.3 839.1,1448" fill="none" stroke="#000" stroke-width="2.2"/>
<line x1="139.1" y1="1433.3" x2="139.1" y2="1448" stroke="#000" stroke-width="2.2"/>
<text x="139.1" y="1484.8" text-anchor="middle" font-family='"Liberation Sans", sans-serif' font-size="23">0.0</text>
<line x1="279.1" y1="1433.3" x2="279.1" y2="1448" stroke="#000" stroke-width="2.2"/>
<text x="279.1" y="1484.8" text-anchor="middle" font-family='"Liberation Sans", sans-serif' font-size="23">0.1</text>
<line x1="419.1" y1="1433.3" x2="419.1" y2="1448" stroke="#000" stroke-width="2.2"/>
<text x="419.1" y="1484.8" text-anchor="middle" font-family='"Liberation Sans", sans-serif' font-size="23">0.2</text>
<line x1="559.1" y1="1433.3" x2="559.1" y2="1448" stroke="#000" stroke-width="2.2"/>
<text x="559.1" y="1484.8" text-anchor="middle" font-family='"Liberation Sans", sans-serif' font-size="23">0.3</text>
<line x1="699.1" y1="1433.3" x2="699.1" y2="1448" stroke="#000" stroke-width="2.2"/>
<text x="699.1" y="1484.8" text-anchor="middle" font-family='"Liberation Sans", sans-serif' font-size="23">0.4</text>
<line x1="839.1" y1="1433.3" x2="839.1" y2="1448" stroke="#000" stroke-width="2.2"/>
<text x="839.1" y="1484.8" text-anchor="middle" font-family='"Liberation Sans", sans-serif' font-size="23">0.5</text>
<text x="488.9" y="1539.7" text-anchor="middle" font-family='"Liberation Sans", sans-serif' font-size="23.6">High Risk Threshold</text>
<text transform="translate(21.8,1314.9) rotate(-90)" text-anchor="middle" font-family='"Liberation Sans", sans-serif' font-size="23.2">Standardized Net Benefit</text>
<rect x="618.5" y="1198" width="249.5" height="104.5" fill="#fff" stroke="#000" stroke-width="1.8"/>
<line x1="637.5" y1="1223.5" x2="682" y2="1223.5" stroke="#ff0000" stroke-width="3"/>
<line x1="637.5" y1="1249.5" x2="682" y2="1249.5" stroke="#999" stroke-width="1.6"/>
<line x1="637.5" y1="1276" x2="682" y2="1276" stroke="#000" stroke-width="2"/>
<text x="700.7" y="1231.3" font-family='"Liberation Sans", sans-serif' font-size="23.3">CumAIP Model</text>
<text x="700.7" y="1257.5" font-family='"Liberation Sans", sans-serif' font-size="23.3">All</text>
<text x="700.7" y="1283.7" font-family='"Liberation Sans", sans-serif' font-size="23.3">None</text>
</svg></body></html>
